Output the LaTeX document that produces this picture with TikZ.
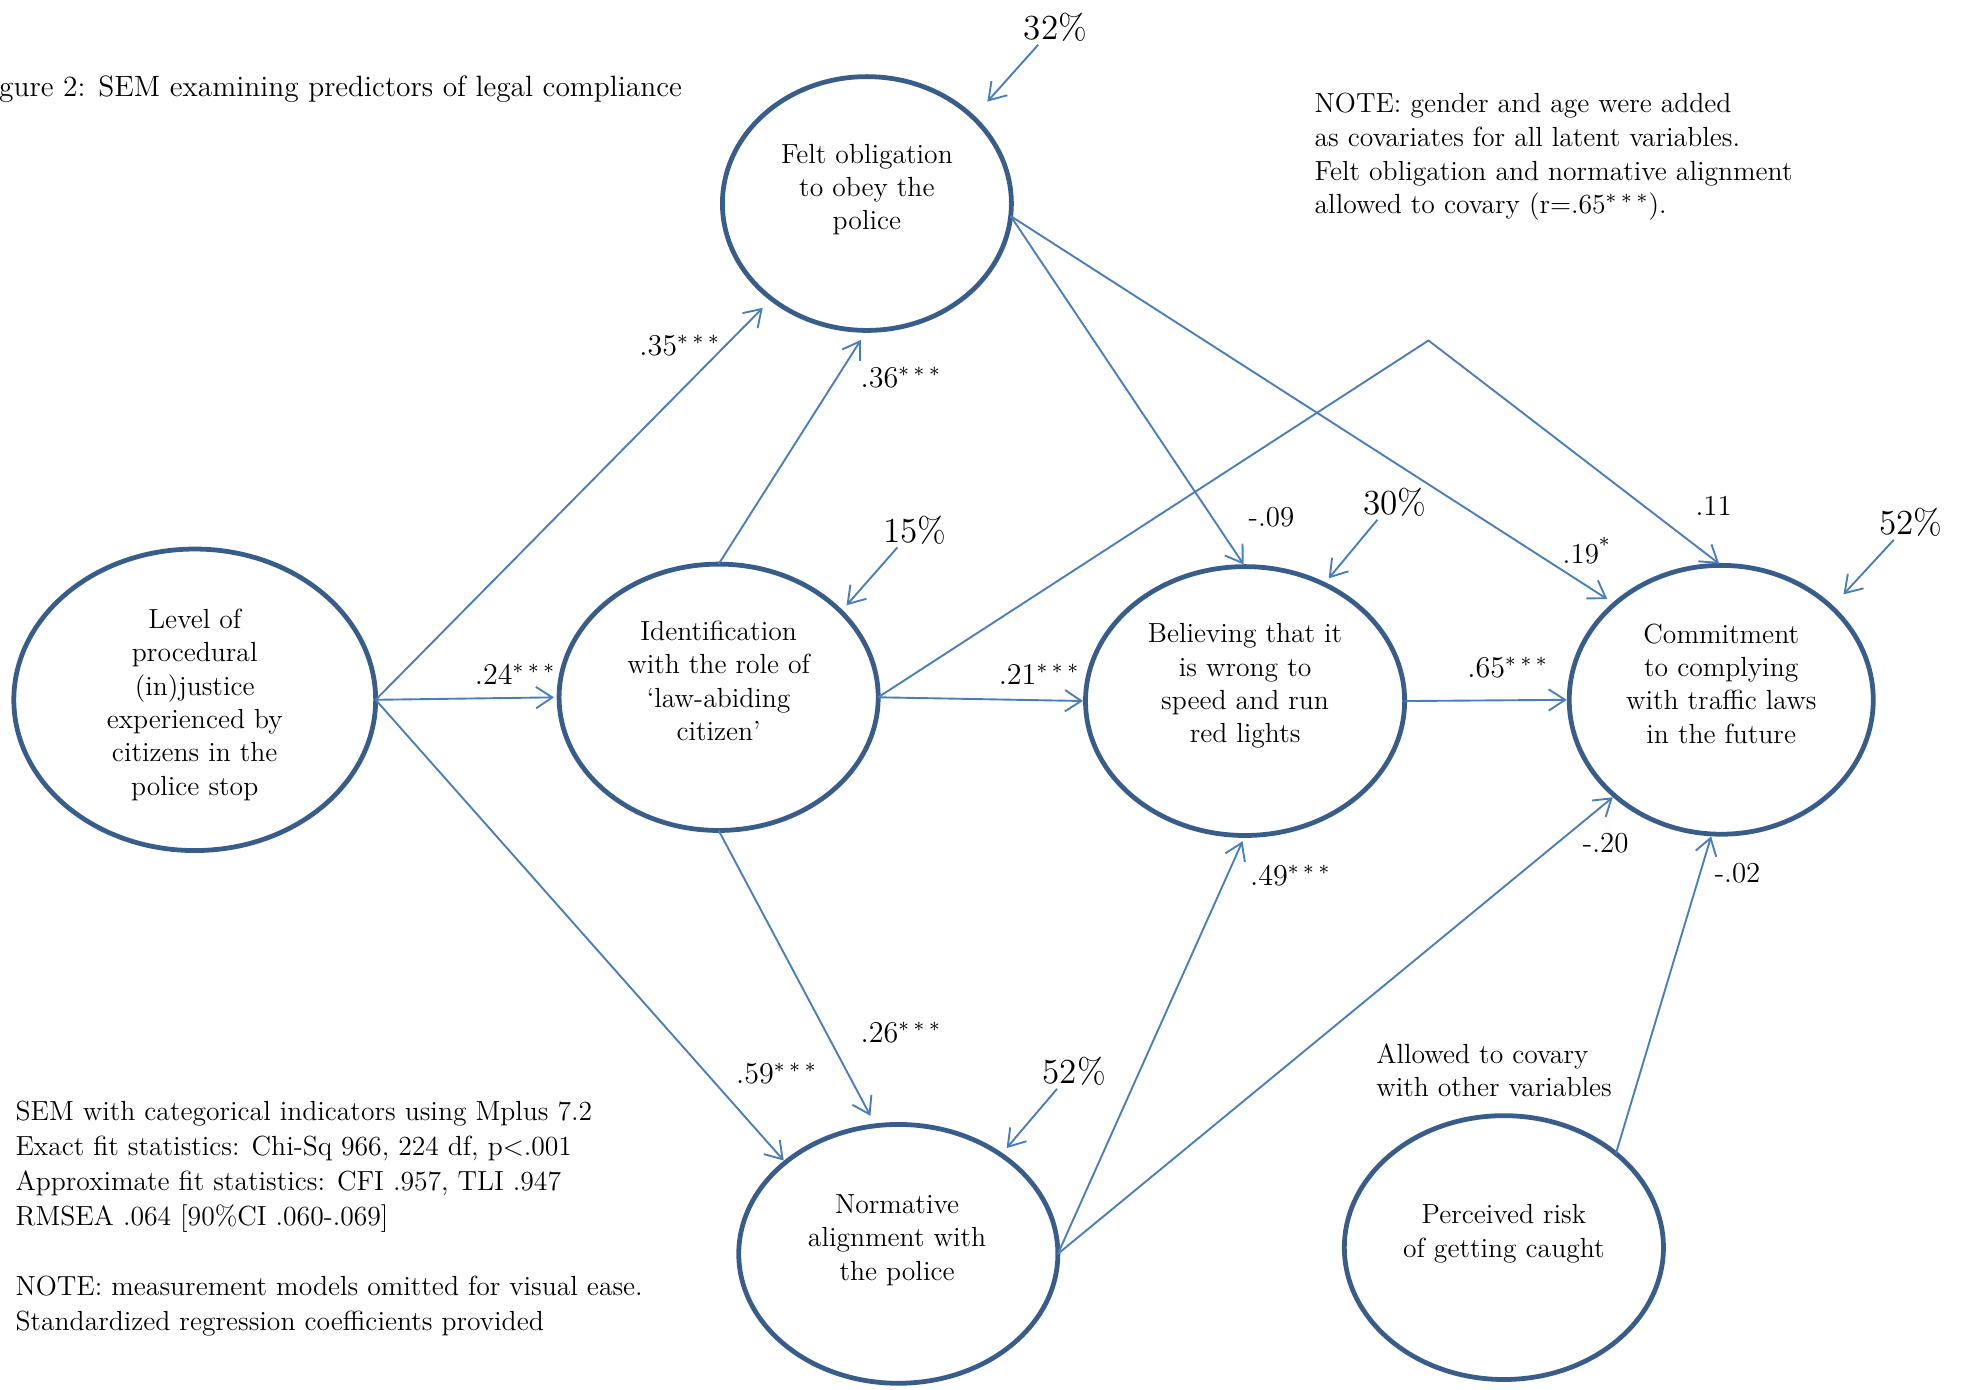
\documentclass[tikz,border=0pt]{standalone}
\usepackage{fontspec}
\usetikzlibrary{arrows.meta,shapes.geometric}
\definecolor{ellblue}{HTML}{385D8A}
\definecolor{lineblue}{HTML}{4A7EBB}
\begin{document}
\begin{tikzpicture}[x=0.5pt,y=-0.5pt,
  lat/.style={ellipse, draw=ellblue, line width=1.9pt, inner sep=0pt, outer sep=0pt},
  body/.style={align=center, font=\fontsize{11}{13.25}\selectfont, inner sep=0pt},
  coef/.style={font=\fontsize{11.5}{13}\selectfont, inner sep=1pt},
  pct/.style={font=\fontsize{14}{16}\selectfont, inner sep=1pt},
  arr/.style={draw=lineblue, line width=0.75pt, -{Straight Barb[length=6.5pt,width=8.5pt]}, shorten >=1pt},
  blk/.style={align=left, inner sep=0pt, anchor=west}
]
\useasboundingbox (0,0) rectangle (1568,1106);

% latent variables
\node[lat, minimum width=144pt, minimum height=120pt] (A) at (155,557) {};
\node[lat, minimum width=115pt, minimum height=101pt] (B) at (690,162) {};
\node[lat, minimum width=127pt, minimum height=106pt] (C) at (572,555) {};
\node[lat, minimum width=127pt, minimum height=107pt] (D) at (991,558) {};
\node[lat, minimum width=121pt, minimum height=107pt] (E) at (1370,557) {};
\node[lat, minimum width=127pt, minimum height=103pt] (F) at (715,998) {};
\node[lat, minimum width=127pt, minimum height=105pt] (G) at (1197,993) {};

\node[body] (At) at (155,561) {Level of\\procedural\\(in)justice\\experienced by\\citizens in the\\police stop};
\node[body] (Bt) at (690,151) {Felt obligation\\to obey the\\police};
\node[body] (Ct) at (572,542) {Identification\\with the role of\\‘law-abiding\\citizen’};
\node[body] (Dt) at (991,546) {Believing that it\\is wrong to\\speed and run\\red lights};
\node[body] (Et) at (1370,544) {Commitment\\to complying\\with traffic laws\\in the future};
\node[body] (Ft) at (714,987) {Normative\\alignment with\\the police};
\node[body] (Gt) at (1197,982) {Perceived risk\\of getting caught};

% structural paths
\coordinate (kink) at (1137,271);
\draw[arr, shorten >=5pt] (A.east) -- (B.-135);
\draw[arr, shorten >=2pt] (A.east) -- (C.west);
\draw[arr] (A.east) -- (F.141);
\draw[arr, shorten >=4.5pt] (C.north) -- (B.south);
\draw[arr, shorten >=4.5pt] (C.south) -- (F.100);
\draw[arr] (C.east) -- (D.west);
\draw[arr] (C.east) -- (kink) -- (E.north);
\draw[arr] (B.-5) -- (D.north);
\draw[arr, shorten >=3.5pt] (B.-5) -- (E.138);
\draw[arr] (D.east) -- (E.west);
\draw[arr, shorten >=2.5pt] (F.east) -- (D.south);
\draw[arr] (F.east) -- (E.222);
\draw[arr] (G.40) -- (E.-94);

% coefficients
\node[coef] (l35) at (541,275) {$.35^{*\mkern4mu*\mkern4mu*}$};
\node[coef] (l24) at (410,537) {$.24^{*\mkern4mu*\mkern4mu*}$};
\node[coef] (l59) at (618,854) {$.59^{*\mkern4mu*\mkern4mu*}$};
\node[coef] (l36) at (717,300) {$.36^{*\mkern4mu*\mkern4mu*}$};
\node[coef] (l26) at (717,822) {$.26^{*\mkern4mu*\mkern4mu*}$};
\node[coef] (l21) at (827,537) {$.21^{*\mkern4mu*\mkern4mu*}$};
\node[coef] (l65) at (1200,531) {$.65^{*\mkern4mu*\mkern4mu*}$};
\node[coef] (l49) at (1027,697) {$.49^{*\mkern4mu*\mkern4mu*}$};
\node[coef] (l11) at (1364,403) {.11};
\node[coef] (l09) at (1012,412) {-.09};
\node[coef] (l19) at (1263,438) {.19\textsuperscript{*}};
\node[coef] (l20) at (1278,671) {-.20};
\node[coef] (l02) at (1383,695) {-.02};

% explained variance
\node[pct] (p32) at (840,22) {32\%};
\node[pct] (p15) at (728,422) {15\%};
\node[pct] (p30) at (1110,400) {30\%};
\node[pct] (p52e) at (1521,416) {52\%};
\node[pct] (p52f) at (855,853) {52\%};
\draw[arr, shorten >=8.5pt] (p32.225) -- (B.39);
\draw[arr, shorten >=3.4pt] (p15.225) -- (C.35);
\draw[arr, shorten >=3pt] (p30.225) -- (D.56);
\draw[arr, shorten >=7pt] (p52e.225) -- (E.40);
\draw[arr, shorten >=3.5pt] (p52f.225) -- (F.44);

% text blocks
\node[blk, font=\fontsize{11.7}{13.35}\selectfont] (title) at (-1,71) {gure 2: SEM examining predictors of legal compliance};
\node[blk, font=\fontsize{11}{13.35}\selectfont] (note) at (1046,125) {NOTE: gender and age were added\\as covariates for all latent variables.\\Felt obligation and normative alignment\\allowed to covary (r=.65$^{*\mkern4mu*\mkern4mu*}$).};
\node[blk, font=\fontsize{11}{13.9}\selectfont] (fit) at (12,970) {SEM with categorical indicators using Mplus 7.2\\Exact fit statistics: Chi-Sq 966, 224 df, p<.001\\Approximate fit statistics: CFI .957, TLI .947\\RMSEA .064 [90\%CI .060-.069]\\[13.9pt]NOTE: measurement models omitted for visual ease.\\Standardized regression coefficients provided};
\node[blk, font=\fontsize{11}{13}\selectfont] (cov) at (1095,852) {Allowed to covary\\with other variables};
\end{tikzpicture}
\end{document}
